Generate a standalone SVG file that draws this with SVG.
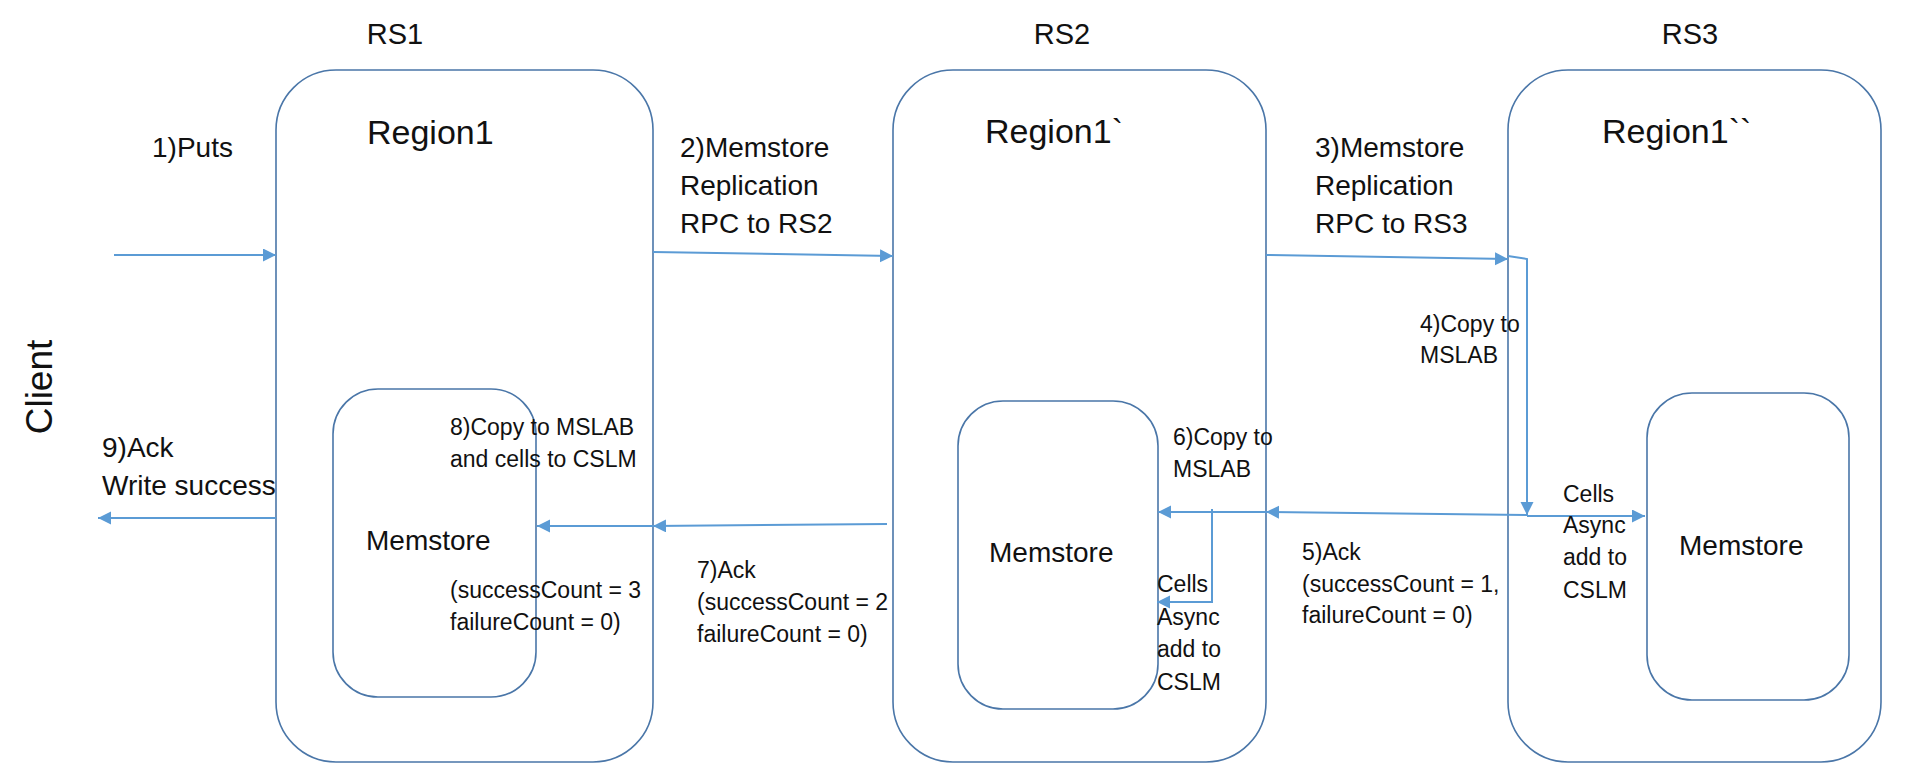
<svg xmlns="http://www.w3.org/2000/svg" width="1920" height="781" viewBox="0 0 1920 781">
<style>
.box{fill:#fff;stroke:#4a76a8;stroke-width:1.6}
.mem{fill:#fff;stroke:#4a76a8;stroke-width:1.6}
.c{fill:none;stroke:#5b9bd5;stroke-width:2}
text{font-family:"Liberation Sans",Arial,sans-serif;fill:#111}
.rs{font-size:29px}
.reg{font-size:34px}
.b{font-size:28px}
.s{font-size:23px}
.cl{font-size:37px}
</style>
<defs>
<marker id="ah" markerUnits="userSpaceOnUse" markerWidth="14" markerHeight="14" refX="13" refY="6.5" orient="auto">
<path d="M0,0 L13,6.5 L0,13 z" fill="#5b9bd5"/>
</marker>
</defs>
<rect width="1920" height="781" fill="#fff"/>

<g id="client">
<text class="cl" text-anchor="middle" transform="translate(52,387) rotate(-90)">Client</text>
</g>

<g id="rs1">
<text class="rs" x="395" y="44" text-anchor="middle">RS1</text>
<rect class="box" x="276" y="70" width="377" height="692" rx="60"/>
<text class="reg" x="367" y="144">Region1</text>
</g>
<g id="rs1-memstore">
<rect class="mem" x="333" y="389" width="203" height="308" rx="45"/>
<text class="b" x="366" y="550">Memstore</text>
</g>

<g id="rs2">
<text class="rs" x="1062" y="44" text-anchor="middle">RS2</text>
<rect class="box" x="893" y="70" width="373" height="692" rx="60"/>
<text class="reg" x="985" y="143">Region1`</text>
</g>
<g id="rs2-memstore">
<rect class="mem" x="958" y="401" width="200" height="308" rx="45"/>
<text class="b" x="989" y="562">Memstore</text>
</g>

<g id="rs3">
<text class="rs" x="1690" y="44" text-anchor="middle">RS3</text>
<rect class="box" x="1508" y="70" width="373" height="692" rx="60"/>
<text class="reg" x="1602" y="143">Region1``</text>
</g>
<g id="rs3-memstore">
<rect class="mem" x="1647" y="393" width="202" height="307" rx="45"/>
<text class="b" x="1679" y="555">Memstore</text>
</g>

<g id="connectors">
<path class="c" d="M114,255 L276,255" marker-end="url(#ah)"/>
<path class="c" d="M653,252 L893,256" marker-end="url(#ah)"/>
<path class="c" d="M1266,255 L1508,259" marker-end="url(#ah)"/>
<path class="c" d="M1508,256 L1527,259 L1527,515" marker-end="url(#ah)"/>
<path class="c" d="M1527,516 L1645,516" marker-end="url(#ah)"/>
<path class="c" d="M1527,515 L1266,512" marker-end="url(#ah)"/>
<path class="c" d="M1266,512 L1158,512" marker-end="url(#ah)"/>
<path class="c" d="M1212,509 L1212,602 L1157,602" marker-end="url(#ah)"/>
<path class="c" d="M887,524 L653,526" marker-end="url(#ah)"/>
<path class="c" d="M653,526 L537,526" marker-end="url(#ah)"/>
<path class="c" d="M276,518 L98,518" marker-end="url(#ah)"/>
</g>

<g id="labels">
<text class="b" x="152" y="157">1)Puts</text>
<text class="b" x="680" y="157">2)Memstore</text>
<text class="b" x="680" y="195">Replication</text>
<text class="b" x="680" y="233">RPC to RS2</text>
<text class="b" x="1315" y="157">3)Memstore</text>
<text class="b" x="1315" y="195">Replication</text>
<text class="b" x="1315" y="233">RPC to RS3</text>
<text class="s" x="1420" y="332">4)Copy to</text>
<text class="s" x="1420" y="363">MSLAB</text>
<text class="s" x="1563" y="502">Cells</text>
<text class="s" x="1563" y="533">Async</text>
<text class="s" x="1563" y="565">add to</text>
<text class="s" x="1563" y="598">CSLM</text>
<text class="s" x="1302" y="560">5)Ack</text>
<text class="s" x="1302" y="592">(successCount = 1,</text>
<text class="s" x="1302" y="623">failureCount = 0)</text>
<text class="s" x="1173" y="445">6)Copy to</text>
<text class="s" x="1173" y="477">MSLAB</text>
<text class="s" x="1157" y="592">Cells</text>
<text class="s" x="1157" y="625">Async</text>
<text class="s" x="1157" y="657">add to</text>
<text class="s" x="1157" y="690">CSLM</text>
<text class="s" x="697" y="578">7)Ack</text>
<text class="s" x="697" y="610">(successCount = 2</text>
<text class="s" x="697" y="642">failureCount = 0)</text>
<text class="s" x="450" y="435">8)Copy to MSLAB</text>
<text class="s" x="450" y="467">and cells to CSLM</text>
<text class="s" x="450" y="598">(successCount = 3</text>
<text class="s" x="450" y="630">failureCount = 0)</text>
<text class="b" x="102" y="457">9)Ack</text>
<text class="b" x="102" y="495">Write success</text>
</g>
</svg>
